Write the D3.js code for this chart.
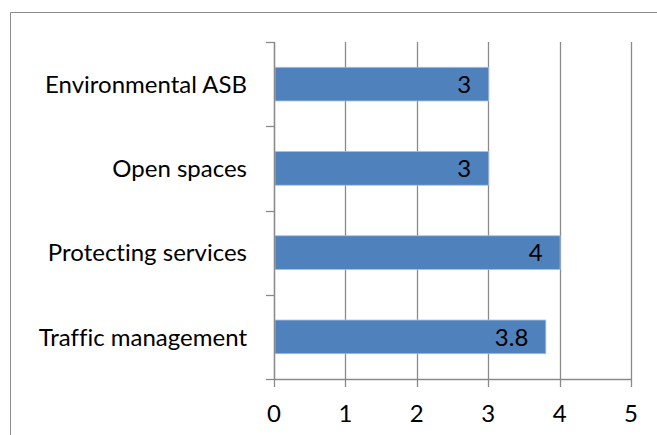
<!DOCTYPE html>
<html>
<head>
<meta charset="utf-8">
<script src="https://cdn.jsdelivr.net/npm/d3@7"></script>
<style>
  body { margin: 0; background: #fff; }
  text { font-family: Lato, "Open Sans", sans-serif; fill: #000; font-variant-ligatures: none; }
</style>
</head>
<body>
<div id="chart"></div>
<script>
// chart values
const categories = ["Environmental ASB", "Open spaces", "Protecting services", "Traffic management"];
const values = [3, 3, 4, 3.8];
const valueLabels = ["3", "3", "4", "3.8"];
const xTicks = [0, 1, 2, 3, 4, 5];

const width = 657, height = 435;
const margin = { top: 42, right: 26, bottom: 56, left: 274 };

let svg = d3.select("#chart")
    .append("svg")
    .attr("width", width)
    .attr("height", height);

// outer chart border (runs off the right and bottom edges)
svg.append("path")
    .attr("d", `M10.5,${height} V12.5 H${width}`)
    .attr("fill", "none")
    .attr("stroke", "#8c8c8c")
    .attr("stroke-width", 1);

let g = svg.append("g")
    .attr("transform", `translate(${margin.left}, ${margin.top})`);

let w = width - margin.left - margin.right,
    h = height - margin.top - margin.bottom;

let x = d3.scaleLinear().domain([0, 5]).range([0, w]);
let y = d3.scaleBand()
    .domain(categories)
    .range([0, h])
    .paddingInner(0.6)
    .paddingOuter(0.3);

const gridColor = "#8a8a8a";
const fontSize = "24px";

// vertical gridlines + ticks below axis
g.selectAll(".grid")
    .data(xTicks)
    .enter()
    .append("line")
    .attr("x1", d => Math.round(x(d)) + 0.5)
    .attr("x2", d => Math.round(x(d)) + 0.5)
    .attr("y1", 0)
    .attr("y2", h + 8)
    .style("stroke", gridColor)
    .style("stroke-width", 1.3);

// bars
g.selectAll(".bar")
    .data(values)
    .enter()
    .append("rect")
    .attr("x", x(0) + 1)
    .attr("y", (d, i) => y(categories[i]))
    .attr("width", d => x(d) - x(0) - 0.5)
    .attr("height", y.bandwidth())
    .style("fill", "#4f81bd")
    .style("stroke", "#a9c0dc")
    .style("stroke-width", 0.8);

// data labels inside end
g.selectAll(".val")
    .data(values)
    .enter()
    .append("text")
    .attr("x", d => x(d) - 17)
    .attr("y", (d, i) => y(categories[i]) + y.bandwidth() / 2)
    .attr("dy", "0.36em")
    .attr("text-anchor", "end")
    .style("font-size", fontSize)
    .text((d, i) => valueLabels[i]);

// y axis line and category boundary ticks
let bounds = d3.range(categories.length + 1).map(i => i * y.step());
g.append("line")
    .attr("x1", 0.5).attr("x2", 0.5)
    .attr("y1", 0).attr("y2", h)
    .style("stroke", gridColor)
    .style("stroke-width", 1.3);
g.selectAll(".ytick")
    .data(bounds)
    .enter()
    .append("line")
    .attr("x1", -8).attr("x2", 0.5)
    .attr("y1", d => Math.round(d) + 0.5)
    .attr("y2", d => Math.round(d) + 0.5)
    .style("stroke", gridColor)
    .style("stroke-width", 1.3);

// x axis line
g.append("line")
    .attr("x1", 0).attr("x2", w)
    .attr("y1", h + 0.5).attr("y2", h + 0.5)
    .style("stroke", gridColor)
    .style("stroke-width", 1.3);

// category labels
g.selectAll(".cat")
    .data(categories)
    .enter()
    .append("text")
    .attr("x", -27)
    .attr("y", d => y(d) + y.bandwidth() / 2)
    .attr("dy", "0.36em")
    .attr("text-anchor", "end")
    .style("font-size", fontSize)
    .text(d => d);

// x tick labels
g.selectAll(".xlab")
    .data(xTicks)
    .enter()
    .append("text")
    .attr("x", d => x(d))
    .attr("y", h + 34)
    .attr("dy", "0.36em")
    .attr("text-anchor", "middle")
    .style("font-size", fontSize)
    .text(d => d);
</script>
</body>
</html>
